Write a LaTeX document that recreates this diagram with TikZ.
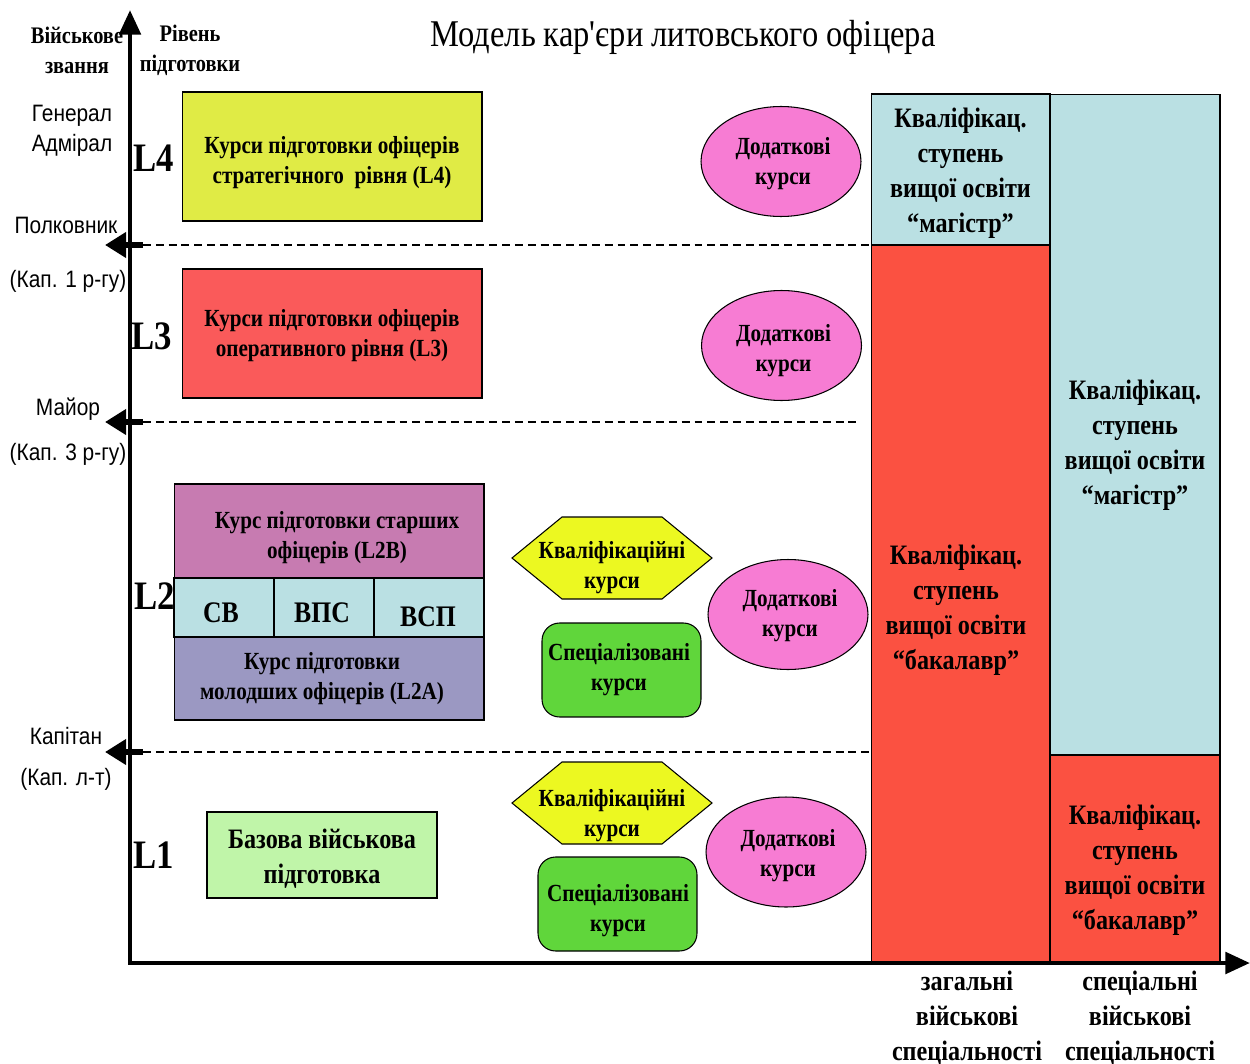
\documentclass[tikz,border=0pt]{standalone}
\usepackage{fontspec}
\setmainfont{Liberation Serif}
\newfontfamily\narrowserif[FakeStretch=0.86]{Liberation Serif}
\newfontfamily\rankfont[FakeStretch=0.88]{Liberation Sans}
\usepackage{tikz}
\usetikzlibrary{shapes.geometric, arrows.meta, positioning}

\definecolor{stratcol}{RGB}{224,235,69}
\definecolor{opercol}{RGB}{250,90,90}
\definecolor{seniorcol}{RGB}{199,123,177}
\definecolor{cyancol}{RGB}{186,224,227}
\definecolor{juniorcol}{RGB}{155,152,194}
\definecolor{basiccol}{RGB}{192,245,169}
\definecolor{qualcol}{RGB}{236,248,33}
\definecolor{speccol}{RGB}{96,214,59}
\definecolor{extracol}{RGB}{247,124,211}
\definecolor{degreecol}{RGB}{251,81,65}

\tikzset{
  box/.style={draw, line width=0.6pt, inner sep=0pt},
  boxtext/.style={align=center, inner sep=0pt,
    font=\narrowserif\bfseries\fontsize{14}{17}\selectfont},
  celltext/.style={inner sep=0pt, font=\narrowserif\bfseries\fontsize{17}{17}\selectfont},
  extra/.style={ellipse, box, fill=extracol, minimum width=3.2cm, minimum height=2.2cm},
  special/.style={box, rounded corners=10pt, fill=speccol,
    minimum width=3.18cm, minimum height=1.88cm},
  degreetext/.style={align=center, inner sep=0pt,
    font=\narrowserif\bfseries\fontsize{16}{20}\selectfont},
  rank/.style={align=center, inner sep=0pt, font=\rankfont\fontsize{13.5}{17}\selectfont},
  head/.style={align=center, inner sep=0pt, font=\narrowserif\bfseries\fontsize{13.5}{17}\selectfont},
  level/.style={inner sep=0pt, font=\narrowserif\bfseries\fontsize{23}{23}\selectfont},
  gridline/.style={line width=0.6pt, dash pattern=on 4.5pt off 2.8pt},
  rankarrow/.style={line width=3pt, -{Triangle[length=12pt, width=14pt]}},
}

\begin{document}
\begin{tikzpicture}[x=0.02cm, y=-0.02cm]
  \useasboundingbox (0,0) rectangle (1250,1064);

  % Title and axis headings
  \node[font=\narrowserif\fontsize{21.5}{22}\selectfont, inner sep=0pt] (title) at (683,37) {Модель кар'єри литовського офіцера};
  \node[head] (rankhead) at (77,50) {Військове\\звання};
  \node[head] (levelhead) at (190,50) {Рівень\\підготовки};

  % Rank boundaries
  \foreach \y/\xend in {245/870, 422/858, 752/870} {
    \draw[gridline] (143,\y) -- (\xend,\y);
    \draw[rankarrow] (143,\y) -- (105,\y);
  }

  % Ranks
  \node[rank] (general) at (72,131) {Генерал\\Адмірал};
  \node[rank] (colonel) at (66,225) {Полковник};
  \node[rank] (captfirst) at (68,281) {(Кап. 1 р-гу)};
  \node[rank] (major) at (68,409) {Майор};
  \node[rank] (captthird) at (68,454) {(Кап. 3 р-гу)};
  \node[rank] (captain) at (66,736) {Капітан};
  \node[rank] (captlt) at (66,779) {(Кап. л-т)};

  % Levels
  \node[level] (l4) at (154,158) {L4};
  \node[level] (l3) at (152,336) {L3};
  \node[level] (l2) at (155,596) {L2};
  \node[level] (l1) at (154,855) {L1};

  % Level courses
  \node[box, fill=stratcol, minimum width=6cm, minimum height=2.58cm] (strat) at (332,156.5) {};
  \node[boxtext] (strattext) at (332,163) {Курси підготовки офіцерів\\стратегічного\ \ рівня (L4)};
  \node[box, fill=opercol, minimum width=6cm, minimum height=2.58cm] (oper) at (332,333.5) {};
  \node[boxtext] (opertext) at (332,335.5) {Курси підготовки офіцерів\\оперативного рівня (L3)};
  \node[box, fill=seniorcol, minimum width=6.2cm, minimum height=1.88cm] (senior) at (329,531) {};
  \node[boxtext] (seniortext) at (337,537.5) {Курс підготовки старших\\офіцерів (L2B)};
  \node[box, fill=cyancol, minimum width=2cm, minimum height=1.18cm] (sv) at (224,607.5) {};
  \node[box, fill=cyancol, minimum width=2cm, minimum height=1.18cm] (vps) at (324,607.5) {};
  \node[box, fill=cyancol, minimum width=2.2cm, minimum height=1.18cm] (vsp) at (429,607.5) {};
  \node[celltext] (svtext) at (221,613) {СВ};
  \node[celltext] (vpstext) at (322,613) {ВПС};
  \node[celltext] (vsptext) at (428,616.5) {ВСП};
  \node[box, fill=juniorcol, minimum width=6.2cm, minimum height=1.66cm] (junior) at (329,678.5) {};
  \node[boxtext] (juniortext) at (322,678.5) {Курс підготовки\\молодших офіцерів (L2A)};
  \node[box, fill=basiccol, minimum width=4.6cm, minimum height=1.72cm] (basic) at (322,855) {};
  \node[degreetext] (basictext) at (322,859) {Базова військова\\підготовка};

  % Qualification courses
  \foreach \n/\y/\ty in {qualtwo/558/567.5, qualone/803/816} {
    \draw[line width=0.6pt, fill=qualcol] (512,\y) -- ++(50,-41) -- ++(100,0) -- ++(50,41)
      -- ++(-50,41) -- ++(-100,0) -- cycle;
    \node[boxtext] (\n) at (612,\ty) {Кваліфікаційні\\курси};
  }

  % Specialised courses
  \node[special] (spectwo) at (621.5,670) {};
  \node[boxtext] (spectwotext) at (619,669.5) {Спеціалізовані\\курси};
  \node[special] (specone) at (617.5,904) {};
  \node[boxtext] (suponetext) at (618,911) {Спеціалізовані\\курси};

  % Additional courses
  \foreach \n/\x/\y/\ty in {extrafour/781/161.5/163.5, extrathree/781.5/345.5/350.5,
                           extratwo/788/614.5/615.5, extraone/786/852/856} {
    \node[extra] (\n) at (\x,\y) {};
    \node[boxtext] (\n text) at (\x+2,\ty) {Додаткові\\курси};
  }

  % Degree columns
  \node[box, fill=cyancol, minimum width=3.58cm, minimum height=3.02cm] (mastera) at (960.5,169.5) {};
  \node[box, fill=degreecol, minimum width=3.58cm, minimum height=14.36cm] (bachelora) at (960.5,604) {};
  \node[box, fill=cyancol, minimum width=3.4cm, minimum height=13.22cm] (masterb) at (1135,424.5) {};
  \node[box, fill=degreecol, minimum width=3.4cm, minimum height=4.16cm] (bachelorb) at (1135,859) {};
  \node[degreetext] (masteratext) at (960.5,173) {Кваліфікац.\\ступень\\вищої освіти\\“магістр”};
  \node[degreetext] (bacheloratext) at (956,610) {Кваліфікац.\\ступень\\вищої освіти\\“бакалавр”};
  \node[degreetext] (masterbtext) at (1135,445.5) {Кваліфікац.\\ступень\\вищої освіти\\“магістр”};
  \node[degreetext] (bachelorbtext) at (1135,870) {Кваліфікац.\\ступень\\вищої освіти\\“бакалавр”};

  % Axes
  \draw[line width=2.8pt, -{Triangle[length=14pt, width=12pt]}] (130,963) -- (130,10);
  \draw[line width=2.8pt, -{Triangle[length=14pt, width=12pt]}] (128,963) -- (1250,963);

  % Specialty groups
  \node[degreetext] (generalspec) at (967,1018) {загальні\\військові\\спеціальності};
  \node[degreetext] (specialspec) at (1140,1018) {спеціальні\\військові\\спеціальності};
\end{tikzpicture}
\end{document}
